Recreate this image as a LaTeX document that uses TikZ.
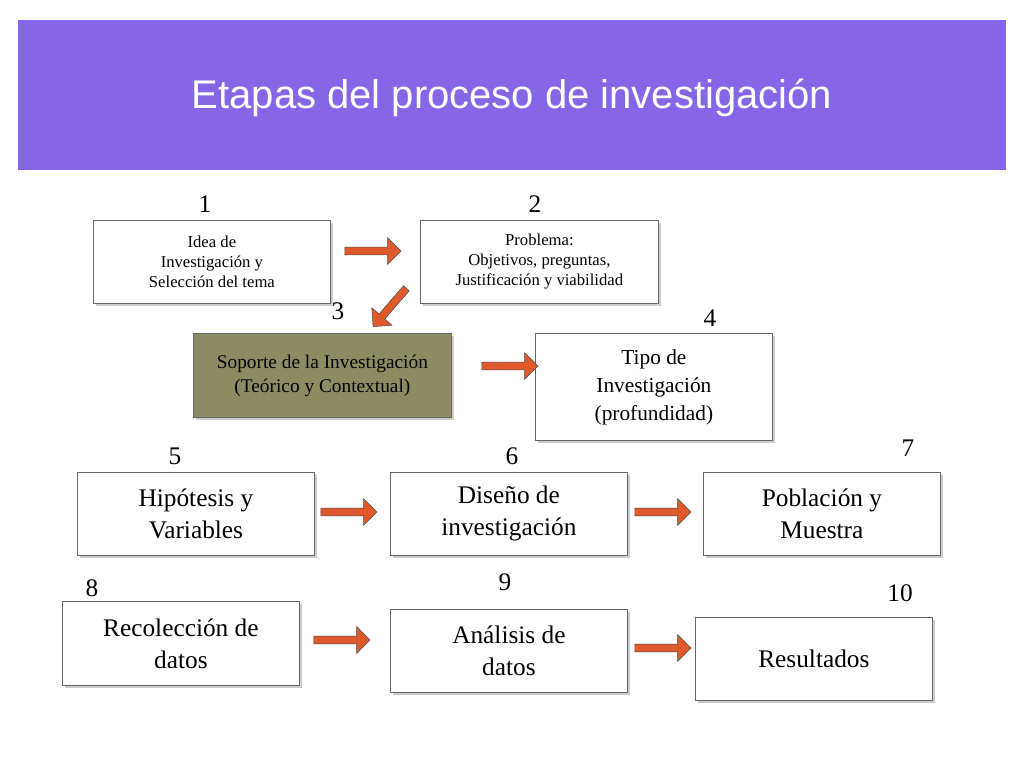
\documentclass[tikz,border=0pt]{standalone}
\usepackage{fontspec}
\setmainfont{Liberation Serif}
\newfontfamily\titlefont{Liberation Sans}
\usetikzlibrary{shapes.arrows,shadows}
\definecolor{hdr}{HTML}{8466E6}
\definecolor{arr}{HTML}{E0592A}
\definecolor{olive}{HTML}{8C8C62}
\begin{document}
\begin{tikzpicture}[x=0.75pt,y=-0.75pt,
  box/.style={draw=black!60,fill=white,line width=0.6pt,drop shadow={shadow xshift=2pt,shadow yshift=-2pt,opacity=0.4},anchor=north west,align=center,inner sep=0pt},
  num/.style={font=\fontsize{19}{19}\selectfont},
  barrow/.style={single arrow,draw=black!70,fill=arr,minimum height=42pt,minimum width=20pt,single arrow head extend=3pt,inner sep=1pt}]
\useasboundingbox (0,0) rectangle (1024,768);
\fill[white] (0,0) rectangle (1024,768);
\fill[hdr] (18,20) rectangle (1006,170);
\node[text=white,font=\titlefont\fontsize{30}{30}\selectfont] (title) at (512,98) {Etapas del proceso de investigación};
% boxes
\node[box,minimum width=177.75pt,minimum height=62.25pt,font=\fontsize{12.5}{15}\selectfont] (b1) at (93,220) {Idea de\\Investigación y\\Selección del tema};
\node[box,minimum width=178.5pt,minimum height=62.25pt,font=\fontsize{12.5}{15}\selectfont] (b2) at (420,220) {Problema:\\Objetivos, preguntas,\\Justificación y viabilidad};
\node[box,fill=olive,minimum width=193.5pt,minimum height=63pt,font=\fontsize{14.5}{18}\selectfont] (b3) at (193,333) {Soporte de la Investigación\\(Teórico y Contextual)};
\node[box,minimum width=177.75pt,minimum height=80.25pt,font=\fontsize{16}{21}\selectfont] (b4) at (535,333) {Tipo de\\Investigación\\(profundidad)};
\node[box,minimum width=177.75pt,minimum height=62.25pt,font=\fontsize{19}{24}\selectfont] (b5) at (77,472) {Hipótesis y\\Variables};
\node[box,minimum width=177.75pt,minimum height=62.25pt,font=\fontsize{19}{24}\selectfont] (b6) at (390,472) {Diseño de\\investigación};
\node[box,minimum width=177.75pt,minimum height=62.25pt,font=\fontsize{19}{24}\selectfont] (b7) at (703,472) {Población y\\Muestra};
\node[box,minimum width=177.75pt,minimum height=63pt,font=\fontsize{19}{24}\selectfont] (b8) at (62,601) {Recolección de\\datos};
\node[box,minimum width=177.75pt,minimum height=62.25pt,font=\fontsize{19}{24}\selectfont] (b9) at (390,609) {Análisis de\\datos};
\node[box,minimum width=177.75pt,minimum height=62.25pt,font=\fontsize{19}{24}\selectfont] (b10) at (695,617) {Resultados};
% numbers
\node[num] (n1) at (205,204) {1};
\node[num] (n2) at (535,204) {2};
\node[num] (n3) at (338,311) {3};
\node[num] (n4) at (710,318) {4};
\node[num] (n5) at (175,456) {5};
\node[num] (n6) at (512,456) {6};
\node[num] (n7) at (908,448) {7};
\node[num] (n8) at (92,588) {8};
\node[num] (n9) at (505,582) {9};
\node[num] (n10) at (900,593) {10};
% arrows
\node[barrow] (a12) at (371,251) {};
\node[barrow,rotate=-131,minimum height=38pt] (a23) at (391,306) {};
\node[barrow] (a34) at (508,366) {};
\node[barrow] (a56) at (347,512) {};
\node[barrow] (a67) at (661,512) {};
\node[barrow] (a89) at (340,640) {};
\node[barrow] (a910) at (661,648) {};
\end{tikzpicture}
\end{document}
